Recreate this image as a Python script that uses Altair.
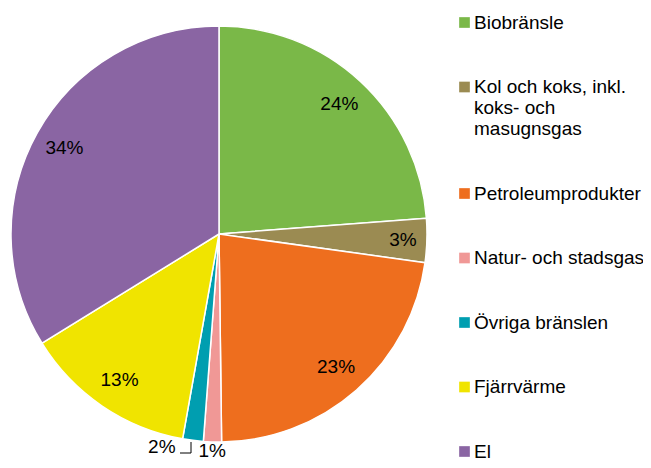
import altair as alt
import pandas as pd

categories = ["Biobränsle", "Kol och koks, inkl. koks- och masugnsgas", "Petroleumprodukter",
              "Natur- och stadsgas", "Övriga bränslen", "Fjärrvärme", "El"]
shares = [23.8, 3.4, 22.6, 1.4, 1.6, 13.4, 33.8]
colors = ["#7AB848", "#9B8B52", "#EE6E1E", "#F09896", "#009EB0", "#F0E400", "#8A65A3"]

df = pd.DataFrame({"kategori": categories, "andel": shares, "ordning": list(range(len(categories)))})

FONT = "Liberation Sans"
FS = 19
CX, CY = 211, 226

legend_expr = ("datum.label == 'Kol och koks, inkl. koks- och masugnsgas' ? "
               "['Kol och koks, inkl.', 'koks- och', 'masugnsgas'] : datum.label")

base = alt.Chart(df).encode(
    theta=alt.Theta("andel:Q", stack=True),
    order=alt.Order("ordning:Q"),
)

pie = base.mark_arc(outerRadius=208, stroke="white", strokeWidth=1.5).encode(
    x=alt.value(CX), y=alt.value(CY),
    color=alt.Color("kategori:N",
                    scale=alt.Scale(domain=categories, range=colors),
                    sort=categories,
                    legend=alt.Legend(title=None, orient="none", legendX=447, legendY=5,
                                      symbolType="square", symbolSize=114, symbolStrokeWidth=0,
                                      labelFont=FONT, labelFontSize=FS, labelColor="#000000",
                                      labelOffset=0, rowPadding=44.5, labelLimit=300,
                                      labelExpr=legend_expr)),
)

def lbl_layer(cond, radius, dx=0, dy=0):
    return base.transform_calculate(
        lbl=f"({cond}) ? format(datum.andel, '.0f') + '%' : ''"
    ).mark_text(radius=radius, font=FONT, fontSize=FS, color="#000000", dx=dx, dy=dy).encode(
        x=alt.value(CX), y=alt.value(CY), text="lbl:N")

main_lbl = lbl_layer("datum.andel >= 5", 177)
brown_lbl = lbl_layer("datum.andel >= 3 && datum.andel < 5", 184)
pink_lbl = lbl_layer("datum.kategori == 'Natur- och stadsgas'", 217)
teal_lbl = lbl_layer("datum.kategori == 'Övriga bränslen'", 217, dx=-30, dy=-2)

lead_v = alt.Chart(df.head(1)).mark_rule(color="#000000", strokeWidth=1).encode(
    x=alt.value(183), y=alt.value(434), y2=alt.value(445))
lead_h = alt.Chart(df.head(1)).mark_rule(color="#000000", strokeWidth=1).encode(
    x=alt.value(172), x2=alt.value(183), y=alt.value(445))

chart = alt.layer(pie, main_lbl, brown_lbl, pink_lbl, teal_lbl, lead_v, lead_h).properties(
    width=635, height=452, padding=0, autosize=alt.AutoSizeParams(type="none")
).configure_view(stroke=None)

chart.save("out.html", embed_options={"renderer": "svg", "actions": False})
